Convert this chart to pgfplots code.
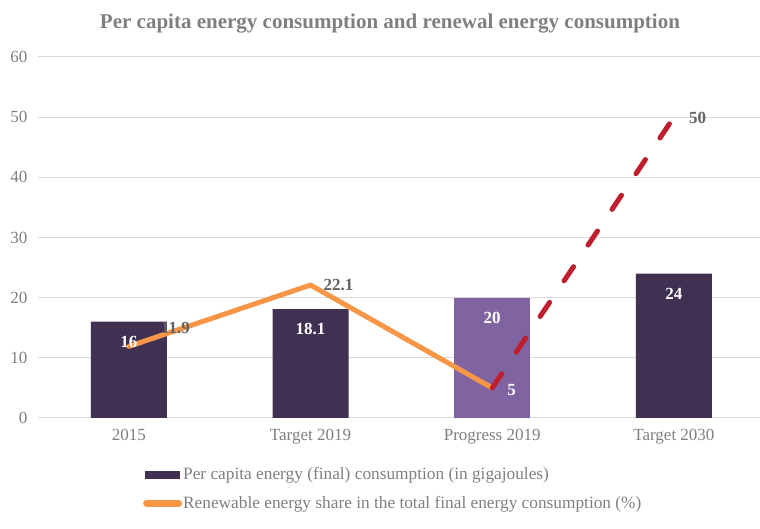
\documentclass[border=0pt]{standalone}
\usepackage{pgfplots}
\pgfplotsset{compat=1.18}
\usepackage{fontspec}
\setmainfont{Liberation Serif}

\definecolor{darkbar}{HTML}{403152}
\definecolor{lightbar}{HTML}{8064A2}
\definecolor{orangeline}{HTML}{F79646}
\definecolor{redline}{HTML}{BE1E2D}
\definecolor{gridgray}{HTML}{D9D9D9}
\definecolor{lighttext}{HTML}{7F7F7F}
\definecolor{darktext}{HTML}{626262}

\newcommand\tickfont{\fontsize{17}{20}\selectfont}
\newcommand\legfont{\fontsize{17.3}{20}\selectfont}
\newcommand\labfont{\fontsize{17}{20}\selectfont\bfseries}

\pgfplotsset{
    barlabels/.style={
        nodes near coords,
        every node near coord/.append style={anchor=center, yshift=-20pt, font=\labfont, text=white},
    },
}

\begin{document}
\begin{tikzpicture}
\begin{axis}[
    at={(0pt,0pt)}, anchor=south west,
    scale only axis,
    width=722pt, height=361pt,
    xmin=-0.5, xmax=3.474,
    ymin=0, ymax=60,
    ytick={0,10,...,60},
    xtick={0,1,2,3},
    xticklabels={2015,Target 2019,Progress 2019,Target 2030},
    axis line style={draw=none},
    major tick length=0pt,
    ymajorgrids,
    grid style={gridgray, line width=1pt},
    tick label style={font=\tickfont, text=lighttext},
    /pgf/number format/assume math mode=true,
    yticklabel style={xshift=-7pt},
    xticklabel style={yshift=-8pt},
    clip=false,
    legend cell align=left,
    legend style={
        at={(0.1454,-0.1344)}, anchor=north west,
        draw=none, fill=none,
        font=\legfont, text=lighttext,
        row sep=13pt,
        inner sep=0pt,
        nodes={inner sep=1pt},
    },
]
    % per capita energy consumption (GJ)
    \addplot[ybar, bar width=76pt, bar shift=0pt, draw=none, fill=darkbar, barlabels,
        legend image code/.code={\fill[darkbar] (0pt,-4pt) rectangle (35pt,4pt);}]
        coordinates {(0,16) (1,18.1) (3,24)};
    \addlegendentry{Per capita energy (final) consumption (in gigajoules)}

    \addplot[ybar, bar width=76pt, bar shift=0pt, draw=none, fill=lightbar, forget plot, barlabels]
        coordinates {(2,20)};

    % renewable energy share (%)
    \addplot[orangeline, line width=5pt, line cap=round, line join=round, mark=none,
        legend image code/.code={\draw[orangeline, line width=7pt, line cap=round] (2pt,0pt) -- (34pt,0pt);}]
        coordinates {(0,11.9) (1,22.1) (2,5)};
    \addlegendentry{Renewable energy share in the total final energy consumption (\%)}

    \addplot[redline, line width=5pt, line cap=round, dash pattern=on 17pt off 26pt, mark=none, forget plot]
        coordinates {(2,5) (3,50)};

    \node[anchor=west, inner sep=0pt, font=\labfont, text=darktext] at (axis cs:0,11.9) [xshift=32pt, yshift=18pt] {11.9};
    \node[anchor=west, inner sep=0pt, font=\labfont, text=darktext] at (axis cs:1,22.1) [xshift=13pt] {22.1};
    \node[anchor=west, inner sep=0pt, font=\labfont, text=white] at (axis cs:2,5) [xshift=15pt, yshift=-2pt] {5};
    \node[anchor=west, inner sep=0pt, font=\labfont, text=darktext] at (axis cs:3,50) [xshift=15pt, yshift=-1pt] {50};
\end{axis}
\node[font=\fontsize{21}{24}\selectfont\bfseries, text=lighttext] at (352pt,394pt)
    {Per capita energy consumption and renewal energy consumption};
\pgfresetboundingbox
\path[use as bounding box] (-38pt,-111pt) rectangle (722pt,418pt);
\end{tikzpicture}
\end{document}
